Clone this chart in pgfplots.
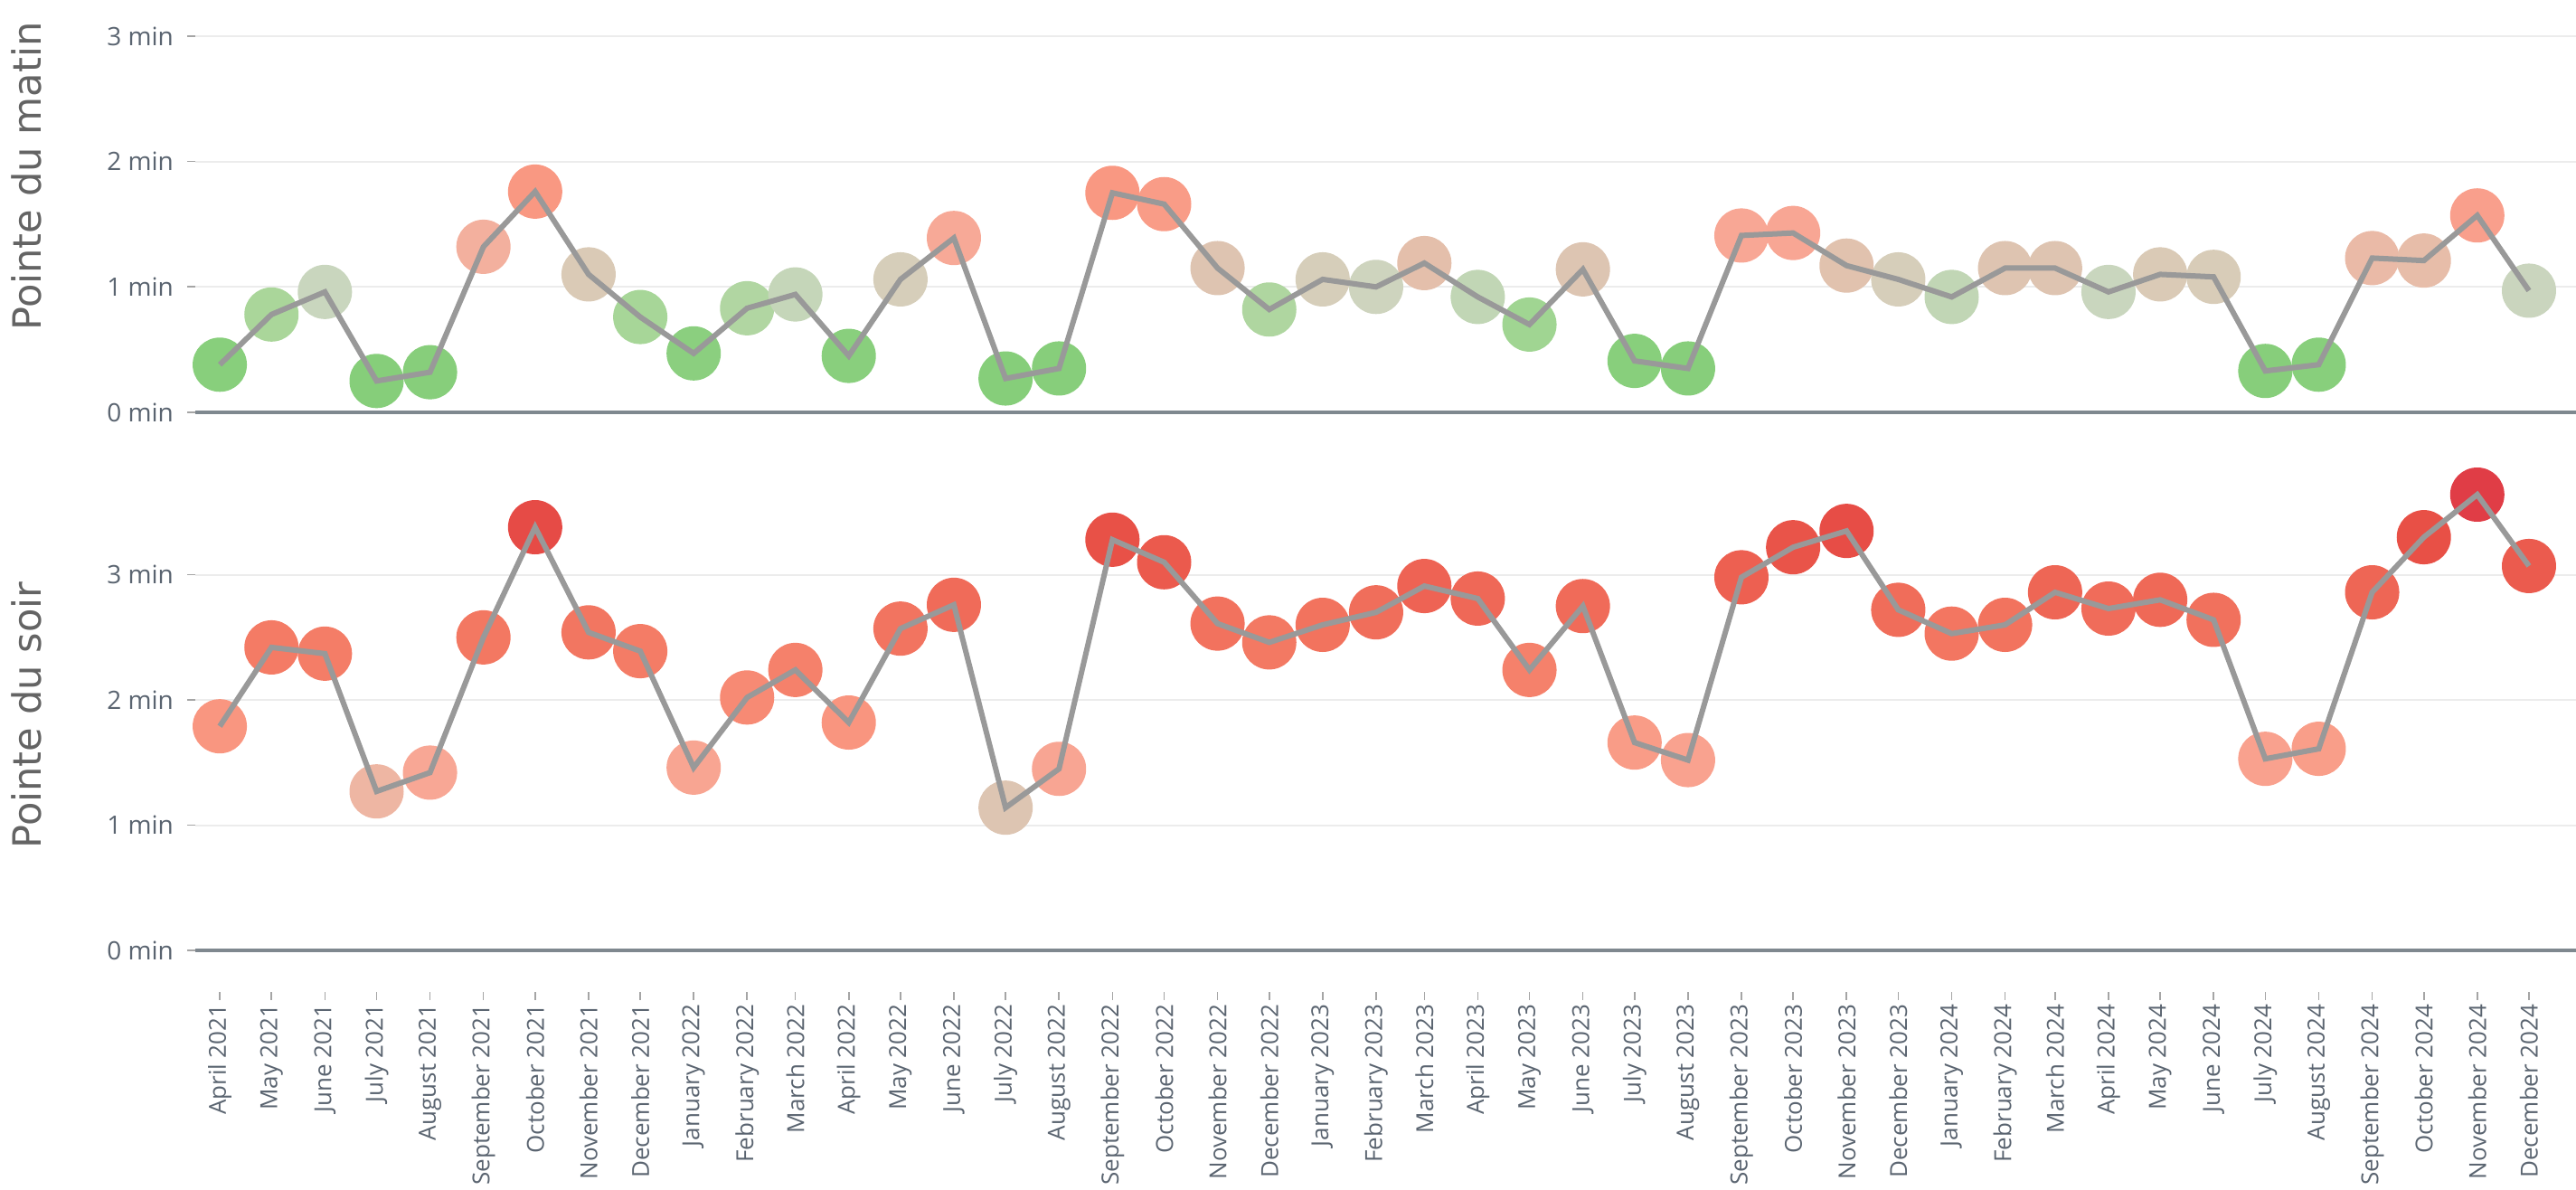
\documentclass[border=0pt]{standalone}
\usepackage{pgfplots}
\pgfplotsset{compat=1.18}
\usepackage{pgfplotstable}
\usepackage{fontspec}
\setmainfont{Open Sans}
\newfontfamily\titlefont{DejaVu Sans}
\definecolor{tickc}{RGB}{90,100,112}
\definecolor{titlec}{RGB}{100,100,100}
\definecolor{gridc}{RGB}{236,236,236}
\definecolor{zeroc}{RGB}{127,136,143}
\definecolor{linec}{RGB}{153,153,153}
\definecolor{tickmarkc}{RGB}{165,165,165}

\pgfplotstableread{
day matin soir
0 0.38 1.79
30 0.78 2.42
61 0.96 2.37
91 0.25 1.27
122 0.32 1.42
153 1.32 2.50
183 1.76 3.38
214 1.10 2.54
244 0.76 2.39
275 0.47 1.46
306 0.83 2.02
334 0.94 2.24
365 0.45 1.82
395 1.06 2.57
426 1.39 2.76
456 0.27 1.14
487 0.35 1.45
518 1.75 3.28
548 1.66 3.10
579 1.15 2.61
609 0.82 2.46
640 1.06 2.60
671 1.00 2.70
699 1.19 2.91
730 0.92 2.81
760 0.70 2.24
791 1.14 2.75
821 0.41 1.66
852 0.35 1.52
883 1.41 2.98
913 1.43 3.22
944 1.17 3.35
974 1.06 2.72
1005 0.92 2.53
1036 1.15 2.60
1065 1.15 2.86
1096 0.96 2.73
1126 1.10 2.80
1157 1.08 2.64
1187 0.33 1.53
1218 0.38 1.61
1249 1.23 2.86
1279 1.21 3.30
1310 1.57 3.64
1340 0.97 3.07
}\data

\pgfplotsset{
  colormap={trafic}{
    rgb255(25pt)=(134,206,122)
    rgb255(45pt)=(137,207,125)
    rgb255(70pt)=(160,213,146)
    rgb255(80pt)=(172,214,156)
    rgb255(88pt)=(186,214,172)
    rgb255(96pt)=(201,214,190)
    rgb255(103pt)=(210,210,190)
    rgb255(108pt)=(216,204,184)
    rgb255(115pt)=(222,196,177)
    rgb255(120pt)=(230,190,170)
    rgb255(130pt)=(242,178,160)
    rgb255(140pt)=(248,168,150)
    rgb255(160pt)=(249,158,138)
    rgb255(180pt)=(249,150,128)
    rgb255(210pt)=(246,134,112)
    rgb255(250pt)=(243,120,98)
    rgb255(290pt)=(238,100,84)
    rgb255(330pt)=(232,80,70)
    rgb255(365pt)=(224,60,70)
  },
  panel/.style={
    scale only axis,
    width=658.25pt,
    xmin=-14.2, xmax=1367.3,
    axis line style={draw=none},
    ytick={1,2,3},
    yticklabels={1 min,2 min,3 min},
    extra y ticks={0},
    extra y tick labels={0 min},
    extra y tick style={major grid style={draw=zeroc, line width=1pt}},
    ymajorgrids,
    major grid style={draw=gridc, line width=0.5pt},
    tick align=outside,
    major tick length=2.2pt,
    ytick pos=left,
    xtick pos=bottom,
    tick style={draw=tickmarkc, line width=0.4pt},
    yticklabel style={font=\fontsize{7}{8}\selectfont, text=tickc, xshift=-0.3pt},
    point meta min=0.25, point meta max=3.65,
    colormap name=trafic,
    clip=false,
    clip marker paths=true,
  },
}

\begin{document}
\begin{tikzpicture}
\useasboundingbox (0pt,0pt) rectangle (712.25pt,-329pt);

\begin{axis}[panel,
  at={(54pt,-114pt)}, anchor=south west,
  height=107.5pt, ymin=0, ymax=3.1,
  xtick=\empty]
\addplot[scatter, only marks, mark=*, mark size=7.3pt,
  scatter/use mapped color={draw=mapped color, fill=mapped color},
  point meta=\thisrow{matin}] table[x=day, y=matin] {\data};
\addplot[linec, line width=1.5pt, mark=none] table[x=day, y=matin] {\data};
\end{axis}

\begin{axis}[panel,
  at={(54pt,-274.25pt)}, anchor=south west,
  height=146.5pt, ymin=-0.332, ymax=3.9,
  xtick={0,30,61,91,122,153,183,214,244,275,306,334,365,395,426,456,487,518,548,579,609,640,671,699,730,760,791,821,852,883,913,944,974,1005,1036,1065,1096,1126,1157,1187,1218,1249,1279,1310,1340},
  xticklabels={April 2021,May 2021,June 2021,July 2021,August 2021,September 2021,October 2021,November 2021,December 2021,January 2022,February 2022,March 2022,April 2022,May 2022,June 2022,July 2022,August 2022,September 2022,October 2022,November 2022,December 2022,January 2023,February 2023,March 2023,April 2023,May 2023,June 2023,July 2023,August 2023,September 2023,October 2023,November 2023,December 2023,January 2024,February 2024,March 2024,April 2024,May 2024,June 2024,July 2024,August 2024,September 2024,October 2024,November 2024,December 2024},
  xticklabel style={rotate=90, anchor=east, font=\fontsize{6.5}{7}\selectfont, text=tickc, inner sep=1pt}]
\addplot[scatter, only marks, mark=*, mark size=7.3pt,
  scatter/use mapped color={draw=mapped color, fill=mapped color},
  point meta=\thisrow{soir}] table[x=day, y=soir] {\data};
\addplot[linec, line width=1.5pt, mark=none] table[x=day, y=soir] {\data};
\end{axis}

\node[rotate=90, anchor=base, text=titlec, font=\titlefont\fontsize{10.8}{13}\selectfont] at (11.25pt,-48.75pt) {Pointe du matin};
\node[rotate=90, anchor=base, text=titlec, font=\titlefont\fontsize{10.8}{13}\selectfont] at (11.25pt,-197.75pt) {Pointe du soir};
\end{tikzpicture}
\end{document}
